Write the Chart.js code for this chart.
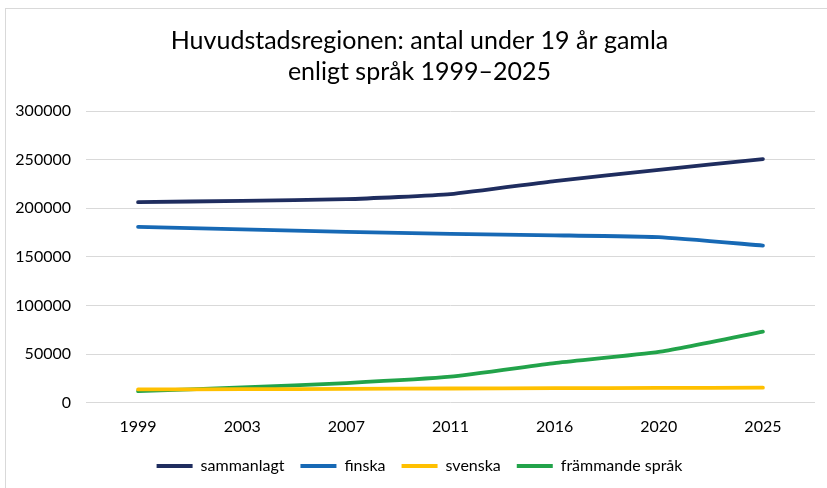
<!DOCTYPE html>
<html>
<head>
<meta charset="utf-8">
<script src="https://cdn.jsdelivr.net/npm/chart.js@4"></script>
<style>
  body { margin: 0; background: #fff; }
  #wrap { position: relative; width: 827px; height: 488px; }
  #frame { position: absolute; left: 5px; top: 8px; right: -10px; bottom: -10px;
           border-top: 1px solid #d9d9d9; border-left: 1px solid #d9d9d9; }
  canvas { position: absolute; left: 0; top: 0; }
</style>
</head>
<body>
<div id="wrap">
  <div id="frame"></div>
  <canvas id="chart" width="827" height="488"></canvas>
</div>
<script>
const years = ['1999', '2003', '2007', '2011', '2016', '2020', '2025'];
const sammanlagt = [206300, 207600, 209300, 214500, 228000, 239500, 250600];
const finska = [180900, 178200, 175700, 173600, 172200, 170300, 161700];
const svenska = [13700, 14000, 14300, 14700, 15000, 15300, 15500];
const frammande = [12000, 15800, 20300, 26800, 40800, 52300, 73200];

const seriesNames = ['sammanlagt', 'finska', 'svenska', 'främmande språk'];
const seriesColors = ['#1f2d5f', '#1769b5', '#ffc000', '#22a34a'];

const fontFamily = 'Lato, "Open Sans", sans-serif';

const ctx = document.getElementById('chart').getContext('2d');
new Chart(ctx, {
  type: 'line',
  data: {
    labels: years,
    datasets: [sammanlagt, finska, svenska, frammande].map((d, i) => ({
      label: seriesNames[i],
      data: d,
      borderColor: seriesColors[i],
      backgroundColor: seriesColors[i],
      borderWidth: 3.8,
      pointRadius: 0,
      borderCapStyle: 'round',
      tension: 0.15,
    }))
  },
  options: {
    responsive: false,
    animation: false,
    layout: { padding: { left: 12, right: 0, top: 26, bottom: 4 } },
    plugins: {
      title: {
        display: true,
        text: ['Huvudstadsregionen: antal under 19 år gamla', 'enligt språk 1999–2025'],
        color: '#000',
        font: { family: fontFamily, size: 25, weight: 'normal', lineHeight: 1.22 },
        padding: { top: 0, bottom: 24 }
      },
      legend: {
        position: 'bottom',
        labels: {
          color: '#000',
          font: { family: fontFamily, size: 16 },
          boxWidth: 36,
          boxHeight: 4,
          padding: 16,
          generateLabels(chart) {
            return chart.data.datasets.map((ds, i) => ({
              text: ds.label,
              fillStyle: ds.borderColor,
              strokeStyle: ds.borderColor,
              lineWidth: 0,
              datasetIndex: i,
            }));
          }
        }
      },
      tooltip: { enabled: false }
    },
    scales: {
      x: {
        offset: true,
        grid: { display: false },
        border: { display: false },
        ticks: { color: '#000', font: { family: fontFamily, size: 16 }, padding: 6 }
      },
      y: {
        min: 0,
        max: 300000,
        afterFit: scale => { scale.width = 74; },
        ticks: {
          stepSize: 50000, color: '#000', font: { family: fontFamily, size: 16 }, padding: 15,
          callback: v => String(v)
        },
        grid: { color: '#d9d9d9', lineWidth: 1, drawTicks: false },
        border: { display: false }
      },
      // empty right-hand axis, only reserves the right margin of the plot
      yRight: {
        position: 'right',
        grid: { display: false },
        border: { display: false },
        ticks: { display: false },
        afterFit: scale => { scale.width = 12; }
      }
    }
  }
});
</script>
</body>
</html>
